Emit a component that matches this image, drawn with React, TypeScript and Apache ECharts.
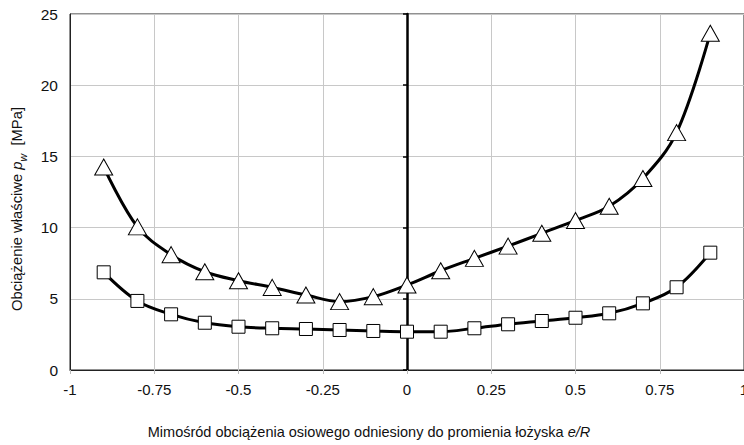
import React, { useEffect, useRef } from "react";
import * as echarts from "echarts";

const xValues = [-0.9, -0.8, -0.7, -0.6, -0.5, -0.4, -0.3, -0.2, -0.1, 0, 0.1, 0.2, 0.3, 0.4, 0.5, 0.6, 0.7, 0.8, 0.9];
const triangleValues = [14.25, 10.05, 8.1, 6.9, 6.27, 5.8, 5.27, 4.8, 5.15, 5.97, 6.97, 7.84, 8.7, 9.6, 10.5, 11.5, 13.45, 16.67, 23.65];
const squareValues = [6.86, 4.85, 3.91, 3.32, 3.04, 2.93, 2.88, 2.81, 2.74, 2.69, 2.69, 2.93, 3.21, 3.44, 3.67, 3.98, 4.68, 5.81, 8.24];
const xTickLabels: Record<string, string> = {
  "-1": "-1", "-0.75": "-0.75", "-0.5": "-0.5", "-0.25": "-0.25", "0": "0",
  "0.25": "0.25", "0.5": "0.5", "0.75": "0.75", "1": "1",
};
const yTickLabels = ["0", "5", "10", "15", "20", "25"];
const xTitle = "Mimośród obciążenia osiowego odniesiony do promienia łożyska ";
const xTitleItalic = "e/R";
const yTitleA = "Obciążenie właściwe ";
const yTitleP = "p";
const yTitleW = "w";
const yTitleB = "  [MPa]";

const FONT = "'Liberation Sans', Arial, sans-serif";

export default function App() {
  const ref = useRef<HTMLDivElement>(null);
  useEffect(() => {
    if (!ref.current) return;
    const chart = echarts.init(ref.current, undefined, { renderer: "svg" });
    const pair = (ys: number[]) => xValues.map((x, i) => [x, ys[i]]);
    chart.setOption({
      animation: false,
      backgroundColor: "#fff",
      textStyle: { fontFamily: FONT },
      grid: {
        left: 70, right: 0, top: 14, bottom: 75,
        containLabel: false, outerBoundsMode: "none",
        show: true, borderColor: "#222", borderWidth: 1,
      },
      xAxis: {
        type: "value",
        min: -1,
        max: 1,
        interval: 0.25,
        axisLine: { onZero: false, lineStyle: { color: "#222", width: 1 } },
        axisTick: { show: true, length: 4, lineStyle: { color: "#bbb" } },
        splitLine: { show: true, lineStyle: { color: "#c8c8c8", width: 1 } },
        axisLabel: {
          color: "#111",
          fontSize: 15,
          fontFamily: FONT,
          margin: 12,
          showMaxLabel: true,
          formatter: (v: number) => xTickLabels[String(v)] ?? String(v),
        },
      },
      yAxis: [
        {
          type: "value",
          min: 0,
          max: 25,
          interval: 5,
          axisLine: { show: true, onZero: false, lineStyle: { color: "#222", width: 1 } },
          axisTick: { show: false },
          splitLine: { show: true, lineStyle: { color: "#c8c8c8", width: 1 } },
          axisLabel: {
            color: "#111",
            fontSize: 15.5,
            fontFamily: FONT,
            margin: 12,
            formatter: (v: number) => yTickLabels[Math.round(v / 5)] ?? String(v),
          },
        },
        {
          type: "value",
          min: 0,
          max: 25,
          interval: 5,
          position: "left",
          axisLine: { show: true, onZero: true, lineStyle: { color: "#000", width: 2.5 } },
          axisTick: { show: true, length: 4, lineStyle: { color: "#000", width: 1.5 } },
          splitLine: { show: false },
          axisLabel: { show: false },
        },
      ],
      graphic: [
        {
          type: "text",
          x: 369,
          y: 432,
          style: {
            text: `{n|${xTitle}}{i|${xTitleItalic}}`,
            align: "center",
            verticalAlign: "middle",
            rich: {
              n: { fontSize: 14.5, fontFamily: FONT, fill: "#111" },
              i: { fontSize: 14.5, fontFamily: FONT, fontStyle: "italic", fill: "#111" },
            },
          },
        },
        {
          type: "text",
          x: 15,
          y: 209,
          rotation: Math.PI / 2,
          style: {
            text: `{n|${yTitleA}}{p|${yTitleP}}{w|${yTitleW}}{n|${yTitleB}}`,
            align: "center",
            verticalAlign: "middle",
            rich: {
              n: { fontSize: 14.8, fontFamily: FONT, fill: "#111", verticalAlign: "bottom", lineHeight: 19 },
              p: { fontSize: 14.8, fontFamily: FONT, fontStyle: "italic", fill: "#111", verticalAlign: "bottom", lineHeight: 19 },
              w: { fontSize: 10.5, fontFamily: FONT, fontStyle: "italic", fill: "#111", verticalAlign: "bottom", lineHeight: 19, padding: [0, 0, -4, 0] },
            },
          },
        },
      ],
      series: [
        {
          type: "line",
          yAxisIndex: 0,
          data: pair(triangleValues),
          smooth: 0.35,
          symbol: "triangle",
          symbolSize: [18, 16],
          lineStyle: { color: "#000", width: 3 },
          itemStyle: { color: "#fff", borderColor: "#000", borderWidth: 1 },
          z: 3,
        },
        {
          type: "line",
          yAxisIndex: 0,
          data: pair(squareValues),
          smooth: 0.35,
          symbol: "rect",
          symbolSize: 13,
          lineStyle: { color: "#000", width: 3 },
          itemStyle: { color: "#fff", borderColor: "#000", borderWidth: 1 },
          z: 3,
        },
      ],
    });
    return () => chart.dispose();
  }, []);
  return <div ref={ref} style={{ width: 744, height: 445, position: "fixed", left: 0, top: 0 }} />;
}
